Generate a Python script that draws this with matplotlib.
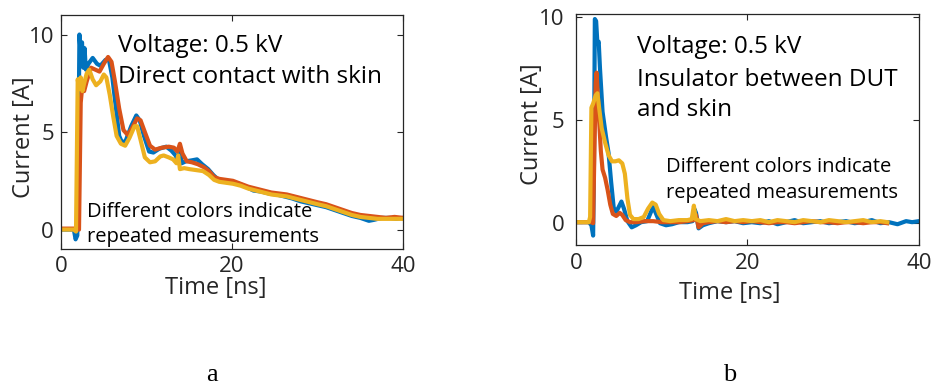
import matplotlib
matplotlib.use("Agg")
import matplotlib.pyplot as plt

plt.rcParams['font.family'] = ['Open Sans', 'DejaVu Sans']

# (a) direct contact with skin: three repeated measurements
t_a_blue = [0, 1.5, 1.7, 1.9, 2.05, 2.15, 2.35, 2.45, 2.6, 2.75, 2.9, 3.2, 3.7, 4.2, 4.6, 5.2,
            5.6, 6.0, 6.4, 6.8, 7.2, 7.6, 8.2, 8.8, 9.2, 9.7, 10.3, 10.8, 11.5, 12.3, 12.9,
            13.4, 13.7, 13.9, 14.1, 14.6, 15.3, 15.9, 16.5, 17.2, 17.8, 18.4, 19.2, 20.0,
            20.8, 21.6, 22.5, 23.4, 24.3, 25.2, 26.1, 27.0, 28.0, 29.0, 30.0, 31.0, 32.0,
            33.0, 34.0, 35.0, 36.0, 36.6, 37.5, 38.5, 39.2, 40.0]
i_a_blue = [0.0, 0.0, -0.5, -0.3, 5.0, 10.0, 8.6, 9.6, 8.3, 9.3, 8.2, 8.5, 8.8, 8.5, 8.4, 8.7,
            8.7, 7.8, 6.3, 4.8, 4.4, 4.6, 5.3, 5.85, 5.6, 4.8, 4.0, 3.95, 4.15, 4.25, 4.05,
            3.8, 3.5, 4.2, 3.4, 3.5, 3.55, 3.6, 3.35, 3.1, 2.8, 2.55, 2.45, 2.4,
            2.35, 2.2, 2.0, 1.95, 1.85, 1.8, 1.7, 1.6, 1.45, 1.35, 1.25, 1.15, 1.0,
            0.85, 0.7, 0.6, 0.45, 0.5, 0.6, 0.6, 0.55, 0.6]

t_a_red = [0, 1.9, 2.1, 2.3, 2.45, 2.7, 3.0, 3.5, 4.0, 4.5, 5.0, 5.5, 5.9, 6.3, 6.8, 7.3,
           7.8, 8.3, 8.9, 9.3, 9.8, 10.4, 11.0, 11.8, 12.6, 13.2, 13.6, 13.9, 14.2, 14.7,
           15.3, 16.0, 16.7, 17.3, 17.9, 18.5, 19.3, 20.1, 21.0, 21.9, 22.8, 23.7, 24.6,
           25.5, 26.4, 27.3, 28.2, 29.1, 30.0, 31.0, 32.0, 33.0, 34.0, 35.0, 36.0, 37.0,
           38.0, 39.0, 40.0]
i_a_red = [0.05, 0.05, 0.0, 6.5, 7.2, 7.1, 7.6, 8.3, 8.2, 8.1, 8.5, 8.85, 8.6, 7.6, 6.2, 5.1,
           4.85, 5.2, 5.7, 5.6, 5.0, 4.3, 4.1, 4.2, 4.25, 4.2, 4.0, 4.4, 3.9, 3.5,
           3.45, 3.35, 3.2, 3.0, 2.7, 2.6, 2.55, 2.5, 2.35, 2.2, 2.1, 2.0, 1.9,
           1.85, 1.8, 1.7, 1.6, 1.5, 1.4, 1.3, 1.15, 1.0, 0.85, 0.75, 0.7, 0.65,
           0.6, 0.65, 0.6]

t_a_yellow = [0, 1.5, 1.75, 1.95, 2.1, 2.3, 2.5, 2.7, 3.0, 3.3, 3.7, 4.1, 4.6, 5.0, 5.3, 5.7,
              6.1, 6.5, 7.0, 7.5, 8.0, 8.6, 8.9, 9.3, 9.8, 10.4, 11.0, 11.6, 12.0, 12.6,
              13.1, 13.5, 13.7, 13.9, 14.4, 15.0, 15.8, 16.6, 17.3, 17.9, 18.5, 19.3, 20.1,
              21.0, 21.9, 22.8, 23.7, 24.6, 25.5, 26.4, 27.3, 28.2, 29.1, 30.0, 31.0, 32.0,
              33.0, 34.0, 35.0, 36.0, 37.0, 38.0, 39.0, 40.0]
i_a_yellow = [0.0, 0.0, -0.1, 7.7, 7.2, 7.8, 7.1, 7.5, 8.0, 8.2, 7.7, 7.4, 7.6, 7.95, 7.8, 6.9,
              5.8, 4.8, 4.4, 4.3, 4.7, 5.3, 5.3, 4.6, 3.7, 3.45, 3.5, 3.75, 3.8, 3.7,
              3.6, 3.4, 3.8, 3.1, 3.15, 3.1, 3.05, 3.0, 2.8, 2.55, 2.45, 2.4, 2.35,
              2.25, 2.1, 2.0, 1.9, 1.8, 1.75, 1.7, 1.6, 1.5, 1.4, 1.3, 1.2, 1.05,
              0.9, 0.75, 0.65, 0.6, 0.55, 0.55, 0.55, 0.55]

# (b) insulator between DUT and skin
t_b_blue = [0, 1.5, 1.8, 2.0, 2.1, 2.2, 2.35, 2.5, 2.65, 2.8, 3.1, 3.5, 3.8, 4.1, 4.4, 4.7,
            5.0, 5.3, 5.6, 6.0, 6.5, 7.0, 7.6, 8.3, 8.7, 9.0, 9.4, 9.8, 10.5, 11.2, 12.0,
            13.0, 13.6, 13.8, 14.0, 14.3, 14.8, 15.5, 16.5, 17.5, 18.5, 19.5, 20.5, 21.5,
            22.5, 23.5, 24.5, 25.5, 26.5, 27.5, 28.5, 29.5, 30.5, 31.5, 32.5, 33.5, 34.5,
            35.5, 36.5, 37.5, 38.5, 39.2, 40.0]
i_b_blue = [0.05, 0.05, -0.1, -0.6, 3.0, 9.9, 9.8, 8.7, 8.8, 7.5, 5.4, 4.2, 3.4, 2.0, 0.75, 0.55,
            0.8, 1.05, 0.7, 0.1, -0.2, -0.1, 0.05, 0.1, 0.5, 0.8, 0.4, 0.0, -0.1, -0.05, 0.05,
            0.05, 0.1, 0.7, 0.5, -0.25, -0.1, 0.0, 0.1, 0.05, 0.1, 0.0, 0.05, 0.0,
            0.1, -0.05, 0.05, 0.15, 0.0, 0.05, 0.1, 0.0, 0.05, 0.1, 0.0, 0.05, 0.15,
            0.0, 0.05, -0.05, 0.1, 0.05, 0.1]

t_b_red = [0, 1.8, 2.0, 2.15, 2.3, 2.4, 2.55, 2.7, 2.9, 3.1, 3.4, 3.7, 4.0, 4.3, 4.7, 5.1,
           5.4, 5.8, 6.3, 7.0, 8.0, 9.0, 10.0, 11.0, 12.0, 13.0, 13.7, 14.0, 14.3, 14.8,
           15.5, 16.5, 17.5, 18.5, 19.5, 20.5, 21.5, 22.5, 23.5, 24.5, 25.5, 26.5, 27.5,
           28.5, 29.5, 30.5, 31.5, 32.5, 33.5, 34.5, 35.5, 36.3]
i_b_red = [0.05, 0.05, 0.0, 3.5, 6.8, 7.3, 6.2, 5.0, 3.5, 2.6, 2.2, 1.6, 0.9, 0.45, 0.35, 0.5,
           0.4, 0.15, 0.05, 0.05, 0.1, 0.1, 0.05, 0.05, 0.05, 0.1, 0.15, 0.4, -0.2, 0.0,
           0.05, 0.1, 0.05, 0.1, 0.05, 0.1, 0.05, 0.0, 0.05, 0.05, 0.0, 0.05, 0.1,
           0.05, 0.05, 0.0, 0.05, 0.05, 0.0, 0.05, 0.05, 0.0]

t_b_yellow = [0, 1.5, 1.65, 1.8, 2.0, 2.3, 2.5, 2.7, 3.0, 3.4, 3.8, 4.2, 4.6, 5.0, 5.4, 5.7,
              6.0, 6.3, 6.7, 7.3, 7.9, 8.4, 8.9, 9.3, 9.7, 10.2, 11.0, 12.0, 13.0, 13.5,
              13.75, 13.95, 14.5, 15.5, 16.5, 17.5, 18.5, 19.5, 20.5, 21.5, 22.5, 23.5,
              24.5, 25.5, 26.5, 27.5, 28.5, 29.5, 30.5, 31.5, 32.5, 33.5, 34.5, 35.5, 36.3]
i_b_yellow = [0.05, 0.05, 0.3, 5.6, 5.8, 6.2, 6.3, 5.6, 4.6, 3.9, 3.3, 3.0, 3.0, 3.05, 2.9, 2.4,
              1.2, 0.4, 0.2, 0.2, 0.3, 0.7, 1.0, 0.9, 0.45, 0.15, 0.1, 0.15, 0.15, 0.2,
              0.85, 0.2, 0.1, 0.15, 0.1, 0.2, 0.1, 0.15, 0.1, 0.15, 0.05, 0.15,
              0.1, 0.05, 0.15, 0.1, 0.05, 0.15, 0.1, 0.05, 0.1, 0.15, 0.05, 0.1, 0.05]

colors = ['#0072BD', '#D95319', '#EDB120']

fig = plt.figure(figsize=(9.32, 3.85), dpi=100)
ax_a = fig.add_axes([0.0655, 0.353, 0.367, 0.608])
ax_b = fig.add_axes([0.618, 0.364, 0.368, 0.600])


def style_axes(ax, ylim, ypad, xpad):
    ax.set_xlim(0, 40)
    ax.set_ylim(*ylim)
    ax.set_xticks([0, 20, 40])
    ax.set_yticks([0, 5, 10])
    ax.tick_params(direction='in', length=4, width=0.8, top=True, right=True,
                   labelsize=16, colors='#262626')
    ax.tick_params(axis='y', pad=ypad)
    ax.tick_params(axis='x', pad=xpad)
    for sp in ax.spines.values():
        sp.set_color('#262626')
        sp.set_linewidth(0.9)


for ax, series in [(ax_a, [(t_a_blue, i_a_blue), (t_a_red, i_a_red), (t_a_yellow, i_a_yellow)]),
                   (ax_b, [(t_b_blue, i_b_blue), (t_b_red, i_b_red), (t_b_yellow, i_b_yellow)])]:
    for (t, i), c in zip(series, colors):
        ax.plot(t, i, color=c, lw=3, solid_joinstyle='round')

style_axes(ax_a, (-1, 11), 5, 5)
style_axes(ax_b, (-1.05, 10.15), 8.5, 6)

ax_a.set_xlabel('Time [ns]', fontsize=17, va='center', color='#262626')
ax_a.xaxis.set_label_coords(0.452, -0.165)
ax_a.set_ylabel('Current [A]', fontsize=17, va='center', color='#262626')
ax_a.yaxis.set_label_coords(-0.108, 0.479)

ax_b.set_xlabel('Time [ns]', fontsize=17, va='center', color='#262626')
ax_b.xaxis.set_label_coords(0.4475, -0.21)
ax_b.set_ylabel('Current [A]', fontsize=17, va='center', color='#262626')
ax_b.yaxis.set_label_coords(-0.128, 0.522)

big = dict(fontsize=17.5, va='baseline', ha='left', color='black')
small = dict(fontsize=14.5, va='baseline', ha='left', color='black')

ax_a.text(0.1667, 0.842, 'Voltage: 0.5 kV', transform=ax_a.transAxes, **big)
ax_a.text(0.1667, 0.709, 'Direct contact with skin', transform=ax_a.transAxes, **big)
ax_a.text(0.076, 0.137, 'Different colors indicate', transform=ax_a.transAxes, **small)
ax_a.text(0.076, 0.030, 'repeated measurements', transform=ax_a.transAxes, **small)

ax_b.text(0.178, 0.831, 'Voltage: 0.5 kV', transform=ax_b.transAxes, **big)
ax_b.text(0.178, 0.688, 'Insulator between DUT', transform=ax_b.transAxes, **big)
ax_b.text(0.178, 0.558, 'and skin', transform=ax_b.transAxes, **big)
ax_b.text(0.262, 0.316, 'Different colors indicate', transform=ax_b.transAxes, **small)
ax_b.text(0.262, 0.203, 'repeated measurements', transform=ax_b.transAxes, **small)

# panel letters
fig.text(212 / 932, 1 - 381 / 385, 'a', family='Liberation Serif', fontsize=19,
         ha='center', va='baseline')
fig.text(730 / 932, 1 - 381 / 385, 'b', family='Liberation Serif', fontsize=19,
         ha='center', va='baseline')

fig.savefig('out.png', dpi=100)
